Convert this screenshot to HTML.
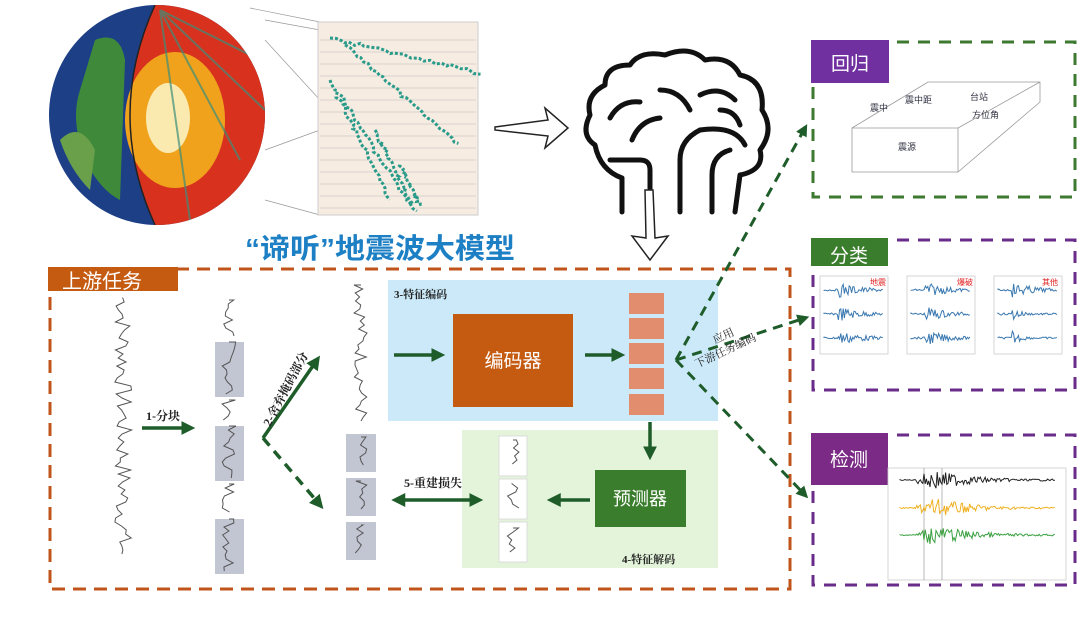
<!DOCTYPE html>
<html><head><meta charset="utf-8"><style>
html,body{margin:0;padding:0;background:#fff;}
body{width:1080px;height:619px;overflow:hidden;position:relative;font-family:"Liberation Sans","Noto Sans CJK SC",sans-serif;}
svg{position:absolute;left:0;top:0;}
</style></head><body>
<svg id="s" width="1080" height="619" viewBox="0 0 1080 619" xmlns="http://www.w3.org/2000/svg">
<defs>
<clipPath id="gc"><ellipse cx="157" cy="115" rx="108" ry="110"/></clipPath>
<marker id="ag" markerWidth="4" markerHeight="4" refX="2.5" refY="2" orient="auto" markerUnits="strokeWidth"><path d="M0,0 L4,2 L0,4 z" fill="#1e5c2a"/></marker>
<marker id="ag2" markerWidth="4" markerHeight="4" refX="1.5" refY="2" orient="auto-start-reverse" markerUnits="strokeWidth"><path d="M0,0 L4,2 L0,4 z" fill="#1e5c2a"/></marker>
</defs>
<!-- globe -->
<g clip-path="url(#gc)">
<rect x="40" y="0" width="240" height="230" fill="#1d3f86"/>
<path d="M95,40 Q120,30 125,60 L120,200 Q100,190 85,160 Q70,120 80,90 Z" fill="#3f8a3a"/>
<path d="M60,140 Q80,120 95,150 L90,190 Q70,170 60,140Z" fill="#6aa04a"/>
<path d="M155,5 Q105,115 155,225 L270,225 L270,5 Z" fill="#d8321f"/>
<ellipse cx="175" cy="120" rx="50" ry="68" fill="#f0a21c"/>
<ellipse cx="168" cy="118" rx="22" ry="35" fill="#fbeab0"/>
<path d="M155,5 Q105,115 155,225" fill="none" stroke="#222" stroke-width="1.5"/>
<path d="M160,10 L260,60 M160,10 L240,160 M160,10 L190,220 M160,10 L265,110" stroke="#3a8f7a" stroke-width="2" fill="none" opacity=".7"/>
</g>
<path d="M265,20 L320,30 M265,40 L320,100 M265,150 L320,130 M265,200 L320,215 M250,8 L320,22" stroke="#999" stroke-width=".7"/>
<!-- seismogram panel -->
<rect x="318" y="22" width="160" height="193" fill="#f6ece2" stroke="#ccc"/>
<g id="sg" stroke="#2a9b8a" stroke-width="2" fill="none"></g>
<!-- hollow arrow right -->
<path d="M495,127 L548,120 L545,108 L568,128 L545,148 L548,136 L495,130 Z" fill="#fff" stroke="#222" stroke-width="1.5"/>
<!-- brain -->
<g fill="none" stroke="#111" stroke-width="5" stroke-linecap="round" stroke-linejoin="round">
<path d="M622,212 L622,178 Q600,170 595,145 Q580,135 590,115 Q585,95 605,85 Q605,65 630,65 Q640,50 665,55 Q690,45 705,60 Q730,55 740,75 Q765,80 762,110 Q775,130 760,150 Q765,170 740,175 L735,212"/>
<path d="M650,212 L650,170 Q650,160 640,160 L610,160"/>
<path d="M680,212 L680,160 Q680,140 700,130"/>
<path d="M712,212 L712,175 Q712,155 730,150"/>
<path d="M610,118 Q620,100 640,102"/>
<path d="M632,140 Q640,120 660,118"/>
<path d="M660,90 Q680,90 690,110"/>
<path d="M700,95 Q720,85 735,100"/>
<path d="M700,130 Q735,125 745,145"/>
<path d="M720,110 Q735,110 740,125"/>
</g>
<!-- hollow arrow down -->
<path d="M645,190 L653,190 L655,238 L668,236 L650,260 L632,236 L646,238 Z" fill="#fff" stroke="#222" stroke-width="1.5"/>
<!-- title -->
<text x="245" y="258" font-size="28" font-weight="bold" fill="#1d7fc4" textLength="270" lengthAdjust="spacingAndGlyphs" font-family="Liberation Sans,Noto Sans CJK SC,sans-serif">“谛听”地震波大模型</text>
<!-- upstream box -->
<rect x="50" y="269" width="740" height="320" fill="none" stroke="#c0541a" stroke-width="3" stroke-dasharray="13,8"/>
<rect x="48" y="267" width="130" height="24" fill="#c55a11"/>
<text x="62" y="288" font-size="20" fill="#fff">上游任务</text>
<!-- blue/green regions -->
<rect x="388" y="280" width="330" height="141" fill="#cbe9f8"/>
<rect x="462" y="430" width="256" height="138" fill="#e3f4da"/>
<text x="394" y="298" font-size="11" font-weight="bold" fill="#222" font-family="Liberation Serif,Noto Serif CJK SC,serif">3-特征编码</text>
<text x="622" y="563" font-size="11" font-weight="bold" fill="#222" font-family="Liberation Serif,Noto Serif CJK SC,serif">4-特征解码</text>
<rect x="453" y="314" width="120" height="93" fill="#c55a11"/>
<text x="513" y="367" font-size="19" fill="#fff" text-anchor="middle">编码器</text>
<g fill="#e28e6e"><rect x="629" y="293" width="35" height="21"/><rect x="629" y="318" width="35" height="21"/><rect x="629" y="343" width="35" height="21"/><rect x="629" y="368" width="35" height="21"/><rect x="629" y="394" width="35" height="21"/></g>
<rect x="595" y="470" width="91" height="57" fill="#3a7d2c"/>
<text x="640" y="505" font-size="18" fill="#fff" text-anchor="middle">预测器</text>
<!-- patches -->
<g fill="#c2c5d2"><rect x="215" y="342" width="29" height="55"/><rect x="215" y="426" width="29" height="55"/><rect x="215" y="519" width="29" height="55"/>
<rect x="346" y="434" width="30" height="38"/><rect x="346" y="478" width="30" height="38"/><rect x="346" y="522" width="30" height="38"/></g>
<g fill="#fff" stroke="#ddd"><rect x="499" y="436" width="28" height="40"/><rect x="499" y="479" width="28" height="40"/><rect x="499" y="522" width="28" height="40"/></g>
<g id="wv" stroke="#555" stroke-width="1" fill="none"></g>
<!-- green arrows -->
<g stroke="#1e5c2a" stroke-width="3.5" fill="none">
<path d="M142,428 L190,428" marker-end="url(#ag)"/>
<path d="M394,355 L440,355" marker-end="url(#ag)"/>
<path d="M585,355 L620,355" marker-end="url(#ag)"/>
<path d="M650,422 L650,455" marker-end="url(#ag)"/>
<path d="M590,500 L552,500" marker-end="url(#ag)"/>
<path d="M400,500 L478,500" marker-start="url(#ag2)" marker-end="url(#ag)"/>
<path d="M263,438 L317,360" marker-end="url(#ag)"/>
<path d="M263,438 L320,505" stroke-dasharray="10,7" marker-end="url(#ag)"/>
<path d="M676,360 L805,128" stroke-width="3" stroke-dasharray="10,7" marker-end="url(#ag)"/>
<path d="M676,360 L805,318" stroke-width="3" stroke-dasharray="10,7" marker-end="url(#ag)"/>
<path d="M676,360 L805,495" stroke-width="3" stroke-dasharray="10,7" marker-end="url(#ag)"/>
</g>
<text x="146" y="420" font-size="12" font-weight="bold" fill="#222" font-family="Liberation Serif,Noto Serif CJK SC,serif">1-分块</text>
<text x="404" y="487" font-size="12" font-weight="bold" fill="#222" font-family="Liberation Serif,Noto Serif CJK SC,serif">5-重建损失</text>
<text transform="translate(270,427) rotate(-62)" font-size="12" font-weight="bold" fill="#222" font-family="Liberation Serif,Noto Serif CJK SC,serif">2-舍弃掩码部分</text>
<text transform="translate(715,344) rotate(-25)" font-size="11" fill="#222" font-family="Liberation Serif,Noto Serif CJK SC,serif">应用</text>
<text transform="translate(697,368) rotate(-25)" font-size="11" fill="#222" font-family="Liberation Serif,Noto Serif CJK SC,serif">下游任务编码</text>
<!-- right panels -->
<rect x="813" y="42" width="262" height="155" fill="none" stroke="#3d7a2f" stroke-width="3" stroke-dasharray="12,9"/>
<rect x="811" y="40" width="78" height="43" fill="#7030a0"/>
<text x="850" y="70" font-size="19" fill="#fff" text-anchor="middle">回归</text>
<g stroke="#999" fill="none" stroke-width=".8"><path d="M852,128 L928,82 L1040,82 L1040,102 L958,172 L852,172 Z M852,128 L958,128 L1040,82 M958,128 L958,172"/></g>
<text x="870" y="111" font-size="9" fill="#334">震中</text><text x="905" y="103" font-size="9" fill="#334">震中距</text><text x="970" y="100" font-size="9" fill="#334">台站</text><text x="972" y="118" font-size="9" fill="#334">方位角</text><text x="898" y="150" font-size="9" fill="#334">震源</text>
<rect x="813" y="240" width="262" height="150" fill="none" stroke="#6a2c8a" stroke-width="3" stroke-dasharray="12,9"/>
<rect x="811" y="238" width="77" height="28" fill="#3a7d2c"/>
<text x="849" y="262" font-size="19" fill="#fff" text-anchor="middle">分类</text>
<g fill="#fff" stroke="#ccc" stroke-width=".8"><rect x="820" y="276" width="68" height="78" /><rect x="907" y="276" width="68" height="78"/><rect x="994" y="276" width="68" height="78"/></g>
<g id="cls" stroke="#3a78b0" stroke-width="1" fill="none"></g>
<text x="870" y="285" font-size="8" fill="#e02020">地震</text><text x="957" y="285" font-size="8" fill="#e02020">爆破</text><text x="1042" y="285" font-size="8" fill="#e02020">其他</text>
<rect x="813" y="435" width="262" height="150" fill="none" stroke="#6a2c8a" stroke-width="3" stroke-dasharray="12,9"/>
<rect x="811" y="433" width="77" height="52" fill="#7b2a85"/>
<text x="849" y="466" font-size="19" fill="#fff" text-anchor="middle">检测</text>
<rect x="888" y="468" width="178" height="112" fill="#fff" stroke="#ccc" stroke-width=".8"/>
<line x1="924" y1="468" x2="924" y2="580" stroke="#888" stroke-width=".6"/><line x1="942" y1="468" x2="942" y2="580" stroke="#888" stroke-width=".6"/>
<g id="det" fill="none" stroke-width="1"></g>
</svg>
<script>
var NS="http://www.w3.org/2000/svg";
var seed=7;function r(){seed=(seed*9301+49297)%233280;return seed/233280;}
function vw(g,x,y0,y1,amp,step,col){var d="M"+x+","+y0;for(var y=y0;y<y1;y+=step){d+=" L"+(x+(r()*2-1)*amp).toFixed(1)+","+y;}var p=document.createElementNS(NS,"path");p.setAttribute("d",d);if(col)p.setAttribute("stroke",col);g.appendChild(p);}
function hw(g,x0,x1,y,ampf,col){var d="M"+x0+","+y;for(var x=x0;x<x1;x+=1.2){d+=" L"+x.toFixed(1)+","+(y+(r()*2-1)*ampf(x)).toFixed(1);}var p=document.createElementNS(NS,"path");p.setAttribute("d",d);if(col)p.setAttribute("stroke",col);g.appendChild(p);}
var wv=document.getElementById("wv");
vw(wv,123,298,555,9,4);
[[300,340],[342,397],[400,424],[426,481],[484,516],[519,574]].forEach(function(a){vw(wv,229,a[0],a[1],7,4);});
vw(wv,361,285,425,7,4);
[[434,472],[478,516],[522,560]].forEach(function(a){vw(wv,361,a[0]+3,a[1]-3,6,4);vw(wv,513,a[0]+6,a[1]-4,6,4);});
var sg=document.getElementById("sg");
var gl=document.createElementNS(NS,"g");gl.setAttribute("stroke","#bbb");gl.setAttribute("stroke-width",".5");sg.parentNode.insertBefore(gl,sg);
for(var y=40;y<210;y+=12){var l=document.createElementNS(NS,"line");l.setAttribute("x1",320);l.setAttribute("x2",476);l.setAttribute("y1",y);l.setAttribute("y2",y);gl.appendChild(l);}
[[330,38,150,35],[345,45,115,100],[330,80,60,120],[340,95,70,110],[375,130,40,80],[400,165,20,40]].forEach(function(b){var d="M"+b[0]+","+b[1];var n=30;for(var k=1;k<=n;k++){d+=" L"+(b[0]+b[2]*k/n+r()*4-2).toFixed(1)+","+(b[1]+b[3]*k/n+r()*4-2).toFixed(1);}var p=document.createElementNS(NS,"path");p.setAttribute("d",d);p.setAttribute("stroke-width","3");p.setAttribute("stroke-dasharray","3,2");sg.appendChild(p);});
var cls=document.getElementById("cls");
[820,907,994].forEach(function(x0,j){for(var k=0;k<3;k++){var y=290+k*24;hw(cls,x0+4,x0+64,y,function(x){var t=x-x0-18;return t<0?1:(j==2&&k>0?Math.max(1,8*Math.exp(-t/10)):Math.max(1,8*Math.exp(-t/25)));});}});
var det=document.getElementById("det");
[["#222",480],["#f0b020",508],["#3aa040",535]].forEach(function(c){hw(det,900,1055,c[1],function(x){return x<915?0.5:(x<935?8*Math.exp(-(x-935)*(x-935)/200)+2:Math.max(1,10*Math.exp(-(x-935)/40)));},c[0]);});
</script>
</body></html>
